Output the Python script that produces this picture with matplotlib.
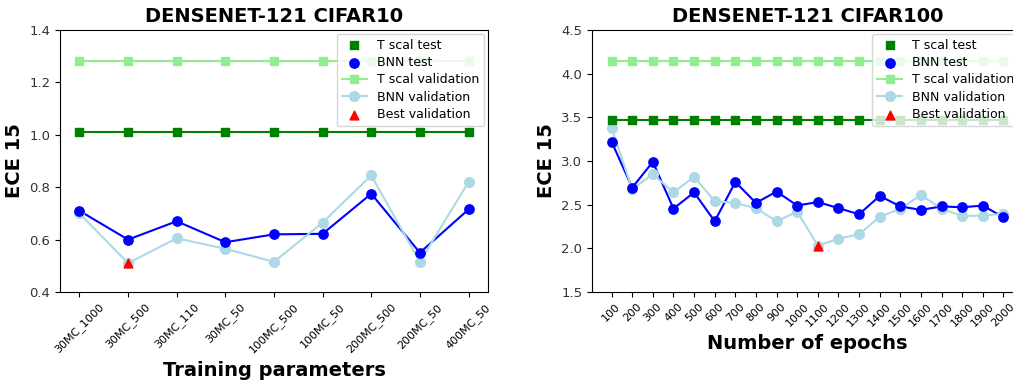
import matplotlib.pyplot as plt

# CIFAR10 data
params10 = ["30MC_1000", "30MC_500", "30MC_110", "30MC_50", "100MC_500",
            "100MC_50", "200MC_500", "200MC_50", "400MC_50"]
tscal_test10 = [1.012] * 9
tscal_val10 = [1.28] * 9
bnn_test10 = [0.71, 0.60, 0.67, 0.59, 0.62, 0.622, 0.775, 0.55, 0.715]
bnn_val10 = [0.70, 0.51, 0.605, 0.565, 0.515, 0.665, 0.845, 0.515, 0.82]
best_idx10 = 1

# CIFAR100 data
epochs100 = [str(e) for e in range(100, 2100, 100)]
tscal_test100 = [3.47] * 20
tscal_val100 = [4.15] * 20
bnn_test100 = [3.22, 2.695, 2.99, 2.455, 2.64, 2.31, 2.76, 2.52, 2.65, 2.49,
               2.53, 2.46, 2.39, 2.60, 2.48, 2.44, 2.48, 2.47, 2.49, 2.355]
bnn_val100 = [3.38, 2.675, 2.85, 2.64, 2.82, 2.54, 2.52, 2.46, 2.31, 2.42,
              2.03, 2.11, 2.16, 2.36, 2.455, 2.61, 2.455, 2.37, 2.375, 2.395]
best_idx100 = 10


def draw(ax, labels, tt, tv, bt, bv, best, title, xlabel, ylim, yticks):
    x = list(range(len(labels)))
    ax.plot(x, tt, color="green", lw=1.5, zorder=2)
    ax.scatter(x, tt, marker="s", color="green", s=36, label="T scal test", zorder=3)
    ax.plot(x, bt, color="blue", lw=1.5, zorder=2)
    ax.scatter(x, bt, marker="o", color="blue", s=45, label="BNN test", zorder=3)
    ax.plot(x, tv, color="lightgreen", marker="s", ms=6, lw=1.5,
            label="T scal validation", zorder=2)
    ax.plot(x, bv, color="lightblue", marker="o", ms=7, lw=1.5,
            label="BNN validation", zorder=2)
    ax.scatter([best], [bv[best]], marker="^", color="red", s=40,
               label="Best validation", zorder=4)
    ax.set_xticks(x)
    ax.set_xticklabels(labels, rotation=45, fontsize=8)
    ax.set_ylim(ylim)
    ax.set_yticks(yticks)
    ax.tick_params(axis="y", labelsize=9.5, labelcolor="#333333")
    ax.set_title(title, fontsize=14, fontweight="bold")
    ax.set_xlabel(xlabel, fontsize=14, fontweight="bold")
    ax.set_ylabel("ECE 15", fontsize=14, fontweight="bold")
    ax.legend(loc="upper right", fontsize=9, borderaxespad=0.3,
              handletextpad=0.8, labelspacing=0.35)


fig = plt.figure(figsize=(10.13, 3.81), dpi=100)
ax1 = fig.add_axes([0.0592, 0.2336, 0.4225, 0.6877])
ax2 = fig.add_axes([0.5844, 0.2336, 0.4255, 0.6877])

draw(ax1, params10, tscal_test10, tscal_val10, bnn_test10, bnn_val10, best_idx10,
     "DENSENET-121 CIFAR10", "Training parameters", (0.4, 1.4),
     [0.4, 0.6, 0.8, 1.0, 1.2, 1.4])
draw(ax2, epochs100, tscal_test100, tscal_val100, bnn_test100, bnn_val100, best_idx100,
     "DENSENET-121 CIFAR100", "Number of epochs", (1.5, 4.5),
     [1.5, 2.0, 2.5, 3.0, 3.5, 4.0, 4.5])

fig.savefig("out.png", dpi=100)
